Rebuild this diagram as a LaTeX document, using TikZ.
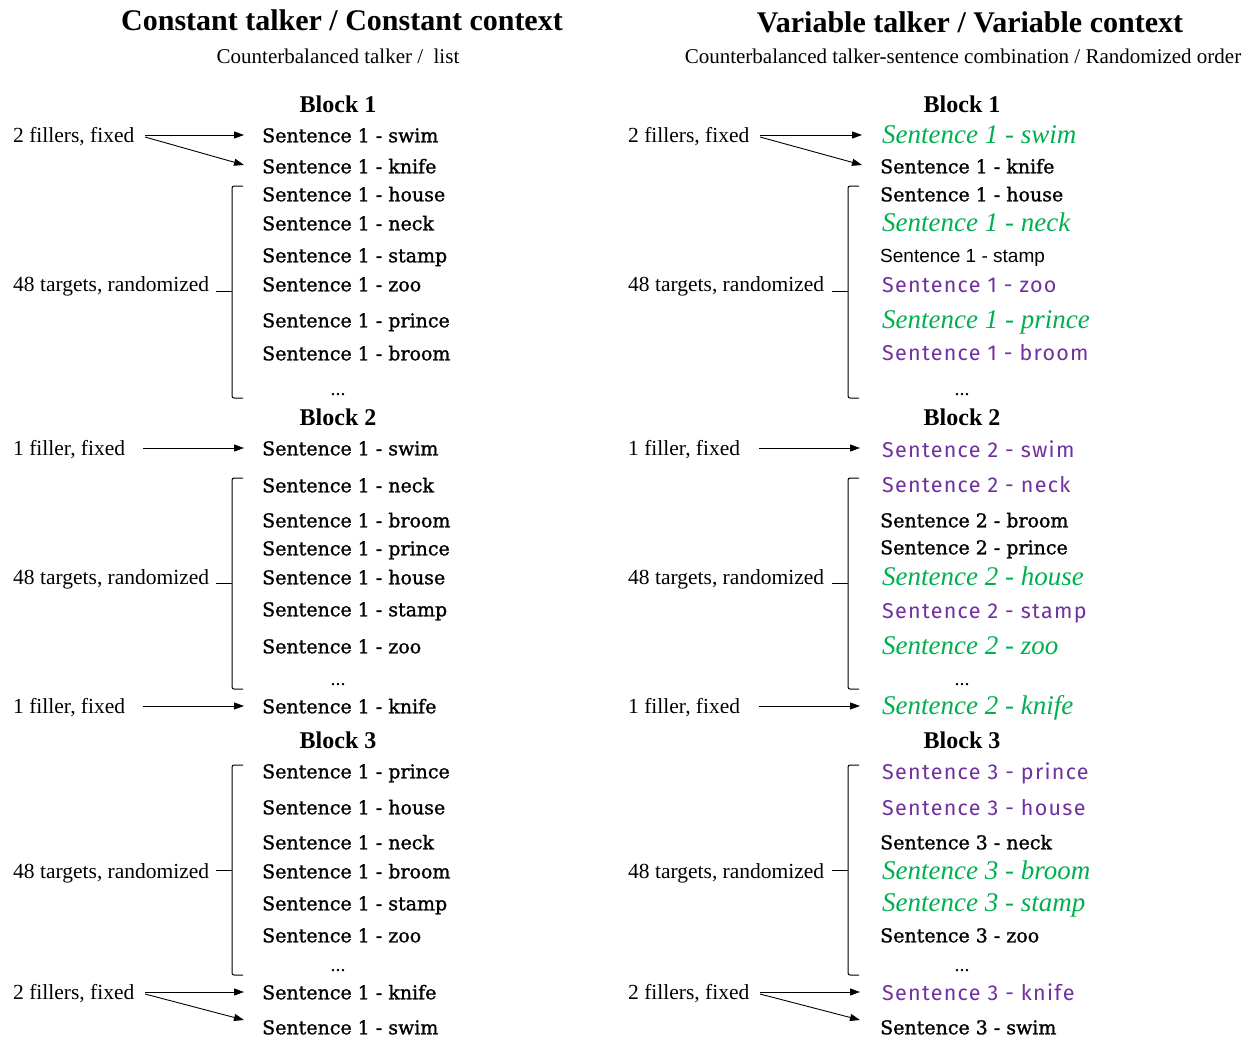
\documentclass[tikz,border=0pt]{standalone}
\usepackage{fontspec}
\setmainfont{Liberation Serif}
\newfontfamily\rockf[FakeBold=1.2]{DejaVu Serif}
\newfontfamily\arialf{Liberation Sans}
\newfontfamily\papyf[LetterSpace=6]{Fira Sans}
\usetikzlibrary{arrows.meta}
\definecolor{grn}{RGB}{0,176,80}
\definecolor{prp}{RGB}{112,48,160}
\tikzset{
  ttl/.style={font=\fontsize{30}{30}\selectfont\bfseries, anchor=mid, inner sep=0pt, yshift=-8pt},
  sub/.style={font=\fontsize{21}{21}\selectfont, anchor=mid, inner sep=0pt, yshift=-5pt},
  blk/.style={font=\fontsize{24}{24}\selectfont\bfseries, anchor=mid, inner sep=0pt, yshift=-6pt},
  lbl/.style={font=\fontsize{21.5}{21.5}\selectfont, anchor=mid west, inner sep=0pt, yshift=-5pt},
  sb/.style={font=\rockf\fontsize{19}{19}\selectfont, anchor=mid west, inner sep=0pt, yshift=-5pt},
  sa/.style={font=\arialf\fontsize{19}{19}\selectfont, anchor=mid west, inner sep=0pt, yshift=-5pt},
  sg/.style={font=\itshape\fontsize{27}{27}\selectfont, text=grn, anchor=mid west, inner sep=0pt, yshift=-6pt},
  sp/.style={font=\papyf\fontsize{21.5}{21.5}\selectfont, text=prp, anchor=mid west, inner sep=0pt, yshift=-5pt},
  dts/.style={font=\fontsize{20}{20}\selectfont, anchor=base, inner sep=0pt},
  arr/.style={-{Triangle[length=10pt,width=7pt]}, line width=0.9pt},
  brc/.style={line width=1pt, rounded corners=2pt},
}
\begin{document}
\begin{tikzpicture}[x=1pt,y=-1pt]
\useasboundingbox[fill=white] (0,0) rectangle (1256,1038);

% ---------- titles ----------
\node[ttl] (T1) at (342,20) {Constant talker / Constant context};
\node[sub] (S1) at (338,56) {Counterbalanced talker /\ \ list};
\node[ttl] (T2) at (970,22) {Variable talker / Variable context};
\node[sub] (S2) at (963,56) {Counterbalanced talker-sentence combination / Randomized order};

% ================= LEFT COLUMN =================
\node[blk] (LB1) at (338,104) {Block 1};
\node[lbl] (Lf1) at (13,135) {2 fillers, fixed};
\node[sb] (L1a) at (262,135) {Sentence 1 - swim};
\node[sb] (L1b) at (262,166) {Sentence 1 - knife};
\node[sb] (L1c) at (262,194) {Sentence 1 - house};
\node[sb] (L1d) at (262,223) {Sentence 1 - neck};
\node[sb] (L1e) at (262,255) {Sentence 1 - stamp};
\node[sb] (L1f) at (262,284) {Sentence 1 - zoo};
\node[sb] (L1g) at (262,320) {Sentence 1 - prince};
\node[sb] (L1h) at (262,353) {Sentence 1 - broom};
\node[dts] (L1i) at (338,395) {...};
\node[lbl] (Lt1) at (13,284) {48 targets, randomized};
\coordinate (Lf1o) at (145,135);
\coordinate (Lf1p) at (145,137);
\draw[arr, shorten >=18pt] (Lf1o) -- (Lf1o -| L1a.west);
\draw[arr] (Lf1p) -- ([xshift=-18pt,yshift=6pt]L1b.mid west);
\draw[brc] (243,186) -- (232,186) -- (232,398) -- (243,398);
\draw[brc] (216,291) -- (232,291);

\node[blk] (LB2) at (338,417) {Block 2};
\node[lbl] (Lf2) at (13,448) {1 filler, fixed};
\node[sb] (L2a) at (262,448) {Sentence 1 - swim};
\node[sb] (L2b) at (262,485) {Sentence 1 - neck};
\node[sb] (L2c) at (262,520) {Sentence 1 - broom};
\node[sb] (L2d) at (262,548) {Sentence 1 - prince};
\node[sb] (L2e) at (262,577) {Sentence 1 - house};
\node[sb] (L2f) at (262,609) {Sentence 1 - stamp};
\node[sb] (L2g) at (262,646) {Sentence 1 - zoo};
\node[dts] (L2h) at (338,685) {...};
\node[lbl] (Lf3) at (13,706) {1 filler, fixed};
\node[sb] (L2i) at (262,706) {Sentence 1 - knife};
\node[lbl] (Lt2) at (13,577) {48 targets, randomized};
\coordinate (Lf2o) at (143,448);
\coordinate (Lf3o) at (143,706);
\draw[arr, shorten >=18pt] (Lf2o) -- (Lf2o -| L2a.west);
\draw[arr, shorten >=18pt] (Lf3o) -- (Lf3o -| L2i.west);
\draw[brc] (243,478) -- (232,478) -- (232,689) -- (243,689);
\draw[brc] (216,583) -- (232,583);

\node[blk] (LB3) at (338,740) {Block 3};
\node[sb] (L3a) at (262,771) {Sentence 1 - prince};
\node[sb] (L3b) at (262,807) {Sentence 1 - house};
\node[sb] (L3c) at (262,842) {Sentence 1 - neck};
\node[sb] (L3d) at (262,871) {Sentence 1 - broom};
\node[sb] (L3e) at (262,903) {Sentence 1 - stamp};
\node[sb] (L3f) at (262,935) {Sentence 1 - zoo};
\node[dts] (L3g) at (338,971) {...};
\node[lbl] (Lf4) at (13,992) {2 fillers, fixed};
\node[sb] (L3h) at (262,992) {Sentence 1 - knife};
\node[sb] (L3i) at (262,1027) {Sentence 1 - swim};
\node[lbl] (Lt3) at (13,871) {48 targets, randomized};
\coordinate (Lf4o) at (145,992);
\coordinate (Lf4p) at (145,994);
\draw[arr, shorten >=18pt] (Lf4o) -- (Lf4o -| L3h.west);
\draw[arr] (Lf4p) -- ([xshift=-18pt,yshift=12pt]L3i.mid west);
\draw[brc] (243,765) -- (232,765) -- (232,975) -- (243,975);
\draw[brc] (216,870) -- (232,870);

% ================= RIGHT COLUMN =================
\node[blk] (RB1) at (962,104) {Block 1};
\node[lbl] (Rf1) at (628,135) {2 fillers, fixed};
\node[sg] (R1a) at (882,135) {Sentence 1 - swim};
\node[sb] (R1b) at (880,166) {Sentence 1 - knife};
\node[sb] (R1c) at (880,194) {Sentence 1 - house};
\node[sg] (R1d) at (882,223) {Sentence 1 - neck};
\node[sa] (R1e) at (880,255) {Sentence 1 - stamp};
\node[sp] (R1f) at (882,285) {Sentence 1 - zoo};
\node[sg] (R1g) at (882,320) {Sentence 1 - prince};
\node[sp] (R1h) at (882,353) {Sentence 1 - broom};
\node[dts] (R1i) at (962,395) {...};
\node[lbl] (Rt1) at (628,284) {48 targets, randomized};
\coordinate (Rf1o) at (760,135);
\coordinate (Rf1p) at (760,137);
\draw[arr, shorten >=20pt] (Rf1o) -- (Rf1o -| R1a.west);
\draw[arr] (Rf1p) -- ([xshift=-18pt,yshift=6pt]R1b.mid west);
\draw[brc] (859,186) -- (848,186) -- (848,398) -- (859,398);
\draw[brc] (832,291) -- (848,291);

\node[blk] (RB2) at (962,417) {Block 2};
\node[lbl] (Rf2) at (628,448) {1 filler, fixed};
\node[sp] (R2a) at (882,450) {Sentence 2 - swim};
\node[sp] (R2b) at (882,485) {Sentence 2 - neck};
\node[sb] (R2c) at (880,520) {Sentence 2 - broom};
\node[sb] (R2d) at (880,547) {Sentence 2 - prince};
\node[sg] (R2e) at (882,577) {Sentence 2 - house};
\node[sp] (R2f) at (882,611) {Sentence 2 - stamp};
\node[sg] (R2g) at (882,646) {Sentence 2 - zoo};
\node[dts] (R2h) at (962,685) {...};
\node[lbl] (Rf3) at (628,706) {1 filler, fixed};
\node[sg] (R2i) at (882,706) {Sentence 2 - knife};
\node[lbl] (Rt2) at (628,577) {48 targets, randomized};
\coordinate (Rf2o) at (759,448);
\coordinate (Rf3o) at (759,706);
\draw[arr, shorten >=22pt] (Rf2o) -- (Rf2o -| R2a.west);
\draw[arr, shorten >=22pt] (Rf3o) -- (Rf3o -| R2i.west);
\draw[brc] (859,478) -- (848,478) -- (848,689) -- (859,689);
\draw[brc] (832,583) -- (848,583);

\node[blk] (RB3) at (962,740) {Block 3};
\node[sp] (R3a) at (882,772) {Sentence 3 - prince};
\node[sp] (R3b) at (882,808) {Sentence 3 - house};
\node[sb] (R3c) at (880,842) {Sentence 3 - neck};
\node[sg] (R3d) at (882,871) {Sentence 3 - broom};
\node[sg] (R3e) at (882,903) {Sentence 3 - stamp};
\node[sb] (R3f) at (880,935) {Sentence 3 - zoo};
\node[dts] (R3g) at (962,971) {...};
\node[lbl] (Rf4) at (628,992) {2 fillers, fixed};
\node[sp] (R3h) at (882,993) {Sentence 3 - knife};
\node[sb] (R3i) at (880,1027) {Sentence 3 - swim};
\node[lbl] (Rt3) at (628,871) {48 targets, randomized};
\coordinate (Rf4o) at (760,992);
\coordinate (Rf4p) at (760,994);
\draw[arr, shorten >=22pt] (Rf4o) -- (Rf4o -| R3h.west);
\draw[arr] (Rf4p) -- ([xshift=-20pt,yshift=12pt]R3i.mid west);
\draw[brc] (859,765) -- (848,765) -- (848,975) -- (859,975);
\draw[brc] (832,870) -- (848,870);
\end{tikzpicture}
\end{document}
